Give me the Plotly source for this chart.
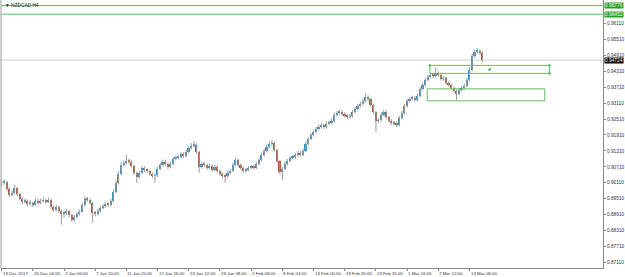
import plotly.graph_objects as go

# ---------------- data (NZDCAD, H4 — each candle here spans 2 H4 bars) ----------------
bar_index = list(range(0, 372, 2))

closes = [
    0.9011, 0.9015, 0.8988, 0.8966, 0.8973, 0.8992, 0.8970, 0.8951, 0.8940, 0.8943,
    0.8932, 0.8936, 0.8928, 0.8943, 0.8936, 0.8943, 0.8945, 0.8940, 0.8947, 0.8921,
    0.8909, 0.8921, 0.8906, 0.8894, 0.8898, 0.8906, 0.8891, 0.8872, 0.8883, 0.8894,
    0.8902, 0.8928, 0.8951, 0.8947, 0.8936, 0.8898, 0.8894, 0.8906, 0.8917, 0.8924,
    0.8932, 0.8928, 0.8943, 0.8977, 0.9011, 0.9045, 0.9079, 0.9086, 0.9094, 0.9091,
    0.9075, 0.9049, 0.9034, 0.9049, 0.9067, 0.9060, 0.9056, 0.9045, 0.9037, 0.9039,
    0.9064, 0.9079, 0.9091, 0.9082, 0.9071, 0.9082, 0.9101, 0.9105, 0.9109, 0.9120,
    0.9112, 0.9128, 0.9143, 0.9150, 0.9155, 0.9128, 0.9071, 0.9082, 0.9079, 0.9067,
    0.9075, 0.9060, 0.9071, 0.9056, 0.9045, 0.9037, 0.9036, 0.9049, 0.9056, 0.9079,
    0.9097, 0.9079, 0.9067, 0.9056, 0.9060, 0.9067, 0.9071, 0.9068, 0.9082, 0.9097,
    0.9116, 0.9131, 0.9147, 0.9158, 0.9160, 0.9135, 0.9094, 0.9052, 0.9064, 0.9082,
    0.9094, 0.9105, 0.9109, 0.9116, 0.9124, 0.9117, 0.9131, 0.9158, 0.9176, 0.9191,
    0.9203, 0.9214, 0.9222, 0.9229, 0.9221, 0.9234, 0.9237, 0.9244, 0.9267, 0.9274,
    0.9278, 0.9270, 0.9263, 0.9259, 0.9262, 0.9277, 0.9289, 0.9300, 0.9308, 0.9319,
    0.9334, 0.9327, 0.9304, 0.9278, 0.9244, 0.9246, 0.9267, 0.9278, 0.9259, 0.9244,
    0.9237, 0.9234, 0.9229, 0.9255, 0.9274, 0.9300, 0.9319, 0.9327, 0.9331, 0.9323,
    0.9338, 0.9364, 0.9379, 0.9398, 0.9410, 0.9417, 0.9413, 0.9425, 0.9418, 0.9402,
    0.9404, 0.9387, 0.9379, 0.9368, 0.9357, 0.9346, 0.9361, 0.9368, 0.9376, 0.9398,
    0.9436, 0.9488, 0.9504, 0.9507, 0.9500, 0.94724,
]

highs = [
    0.9020, 0.9024, 0.9019, 0.8994, 0.8981, 0.9003, 0.8996, 0.8975, 0.8957, 0.8952,
    0.8949, 0.8946, 0.8941, 0.8952, 0.8950, 0.8951, 0.8955, 0.8951, 0.8956, 0.8951,
    0.8926, 0.8929, 0.8925, 0.8910, 0.8906, 0.8914, 0.8910, 0.8895, 0.8890, 0.8901,
    0.8910, 0.8936, 0.8960, 0.8958, 0.8952, 0.8940, 0.8905, 0.8913, 0.8924, 0.8931,
    0.8939, 0.8938, 0.8951, 0.8985, 0.9020, 0.9054, 0.9088, 0.9095, 0.9116, 0.9102,
    0.9097, 0.9079, 0.9053, 0.9057, 0.9075, 0.9073, 0.9066, 0.9061, 0.9050, 0.9046,
    0.9071, 0.9087, 0.9099, 0.9097, 0.9087, 0.9090, 0.9109, 0.9113, 0.9117, 0.9128,
    0.9126, 0.9136, 0.9151, 0.9160, 0.9169, 0.9160, 0.9132, 0.9090, 0.9089, 0.9084,
    0.9083, 0.9080, 0.9078, 0.9076, 0.9061, 0.9050, 0.9044, 0.9056, 0.9063, 0.9086,
    0.9105, 0.9101, 0.9084, 0.9071, 0.9067, 0.9074, 0.9078, 0.9077, 0.9089, 0.9105,
    0.9124, 0.9139, 0.9155, 0.9167, 0.9173, 0.9165, 0.9139, 0.9098, 0.9071, 0.9090,
    0.9101, 0.9112, 0.9117, 0.9124, 0.9131, 0.9130, 0.9139, 0.9166, 0.9184, 0.9199,
    0.9211, 0.9222, 0.9230, 0.9237, 0.9235, 0.9242, 0.9245, 0.9252, 0.9275, 0.9282,
    0.9286, 0.9284, 0.9276, 0.9269, 0.9270, 0.9285, 0.9297, 0.9308, 0.9316, 0.9327,
    0.9349, 0.9340, 0.9331, 0.9309, 0.9282, 0.9254, 0.9275, 0.9286, 0.9283, 0.9264,
    0.9250, 0.9244, 0.9241, 0.9262, 0.9281, 0.9308, 0.9327, 0.9335, 0.9339, 0.9337,
    0.9346, 0.9372, 0.9387, 0.9406, 0.9418, 0.9426, 0.9424, 0.9443, 0.9431, 0.9423,
    0.9412, 0.9409, 0.9392, 0.9384, 0.9373, 0.9362, 0.9368, 0.9376, 0.9384, 0.9406,
    0.9444, 0.9496, 0.9512, 0.9518, 0.9514, 0.9505,
]

lows = [
    0.8998, 0.9004, 0.8980, 0.8958, 0.8960, 0.8968, 0.8962, 0.8944, 0.8931, 0.8934,
    0.8924, 0.8926, 0.8920, 0.8924, 0.8928, 0.8930, 0.8937, 0.8932, 0.8935, 0.8914,
    0.8901, 0.8903, 0.8898, 0.8853, 0.8880, 0.8892, 0.8882, 0.8864, 0.8866, 0.8877,
    0.8888, 0.8898, 0.8922, 0.8939, 0.8928, 0.8861, 0.8885, 0.8888, 0.8900, 0.8911,
    0.8918, 0.8920, 0.8922, 0.8938, 0.8971, 0.9005, 0.9040, 0.9072, 0.9080, 0.9083,
    0.9068, 0.9041, 0.9011, 0.9028, 0.9043, 0.9052, 0.9048, 0.9038, 0.9029, 0.9011,
    0.9033, 0.9058, 0.9073, 0.9075, 0.9064, 0.9066, 0.9077, 0.9095, 0.9099, 0.9103,
    0.9105, 0.9107, 0.9122, 0.9137, 0.9144, 0.9120, 0.9049, 0.9064, 0.9071, 0.9060,
    0.9061, 0.9053, 0.9054, 0.9049, 0.9038, 0.9029, 0.9011, 0.9030, 0.9043, 0.9051,
    0.9073, 0.9072, 0.9060, 0.9049, 0.9050, 0.9054, 0.9061, 0.9061, 0.9062, 0.9077,
    0.9091, 0.9110, 0.9125, 0.9141, 0.9151, 0.9128, 0.9086, 0.9044, 0.9022, 0.9058,
    0.9076, 0.9088, 0.9099, 0.9102, 0.9110, 0.9110, 0.9111, 0.9126, 0.9152, 0.9170,
    0.9185, 0.9197, 0.9208, 0.9216, 0.9214, 0.9215, 0.9228, 0.9231, 0.9238, 0.9261,
    0.9268, 0.9263, 0.9256, 0.9251, 0.9253, 0.9256, 0.9271, 0.9283, 0.9294, 0.9302,
    0.9313, 0.9320, 0.9297, 0.9270, 0.9203, 0.9236, 0.9240, 0.9261, 0.9252, 0.9237,
    0.9230, 0.9226, 0.9221, 0.9224, 0.9249, 0.9268, 0.9294, 0.9313, 0.9321, 0.9316,
    0.9317, 0.9332, 0.9358, 0.9373, 0.9392, 0.9404, 0.9406, 0.9407, 0.9410, 0.9395,
    0.9395, 0.9380, 0.9372, 0.9361, 0.9350, 0.9323, 0.9340, 0.9354, 0.9362, 0.9370,
    0.9392, 0.9430, 0.9482, 0.9497, 0.9492, 0.9466,
]

first_open = 0.9005
opens = [first_open] + closes[:-1]

# x-axis labels (bar positions, H4 bars)
time_tick_bars = [0, 24, 48, 72, 96, 120, 144, 168, 192, 216, 240, 264, 288, 312, 336, 360]
time_tick_labels = ["19 Dec 2017", "26 Dec 04:00", "2 Jan 00:00", "7 Jan 20:00", "11 Jan 20:00",
                    "17 Jan 16:00", "23 Jan 12:00", "29 Jan 08:00", "2 Feb 08:00", "8 Feb 04:00",
                    "14 Feb 00:00", "19 Feb 20:00", "23 Feb 20:00", "1 Mar 16:00", "7 Mar 12:00",
                    "13 Mar 08:00"]

price_ticks = [0.87110, 0.87710, 0.88310, 0.88910, 0.89510, 0.90110, 0.90710, 0.91310,
               0.91910, 0.92510, 0.93110, 0.93710, 0.94310, 0.94910, 0.95510, 0.96110]
price_tick_labels = ["0.87110", "0.87710", "0.88310", "0.88910", "0.89510", "0.90110",
                     "0.90710", "0.91310", "0.91910", "0.92510", "0.93110", "0.93710",
                     "0.94310", "0.94910", "0.95510", "0.96110"]

level_lines = [0.96776, 0.96452]
level_labels = ["0.96776", "0.96452"]
current_price = 0.94724
current_label = "0.94724"

# zones (bar index / price)
zone_upper = dict(x0=329.5, x1=421.5, y0=0.94226, y1=0.94527)
zone_lower = dict(x0=327.4, x1=417.9, y0=0.93192, y1=0.93644)

# ---------------- build ----------------
BULL = "#3b8fc2"
BEAR = "#b2532f"
WICK = "#9a9a9a"
GREEN = "#62bf62"
FONT = "Liberation Sans"

wx, wy = [], []
for x, h, l in zip(bar_index, highs, lows):
    wx += [x, x, None]
    wy += [l, h, None]

bases, heights, colors = [], [], []
for o, c in zip(opens, closes):
    bases.append(min(o, c))
    heights.append(max(abs(c - o), 0.00012))
    colors.append(BULL if c >= o else BEAR)

fig = go.Figure()
fig.add_trace(go.Scatter(x=wx, y=wy, mode="lines", line=dict(color=WICK, width=1),
                         hoverinfo="skip", showlegend=False))
fig.add_trace(go.Bar(x=bar_index, y=heights, base=bases, width=1.25,
                     marker=dict(color=colors, line=dict(width=0)),
                     hoverinfo="skip", showlegend=False))

# handles on selected zone
ux = [zone_upper["x0"], zone_upper["x1"], zone_upper["x1"], (zone_upper["x0"] + zone_upper["x1"]) / 2]
uy = [zone_upper["y1"], zone_upper["y1"], zone_upper["y0"], (zone_upper["y0"] + zone_upper["y1"]) / 2]
fig.add_trace(go.Scatter(x=ux, y=uy, mode="markers",
                         marker=dict(size=2.5, color="#4aa84a"), hoverinfo="skip", showlegend=False))

shapes = []
for lv in level_lines:
    shapes.append(dict(type="line", xref="paper", x0=0, x1=1, yref="y", y0=lv, y1=lv,
                       line=dict(color=GREEN, width=1)))
shapes.append(dict(type="line", xref="paper", x0=0, x1=1, yref="y", y0=current_price,
                   y1=current_price, line=dict(color="#cfcfcf", width=1), layer="below"))
for z in (zone_upper, zone_lower):
    shapes.append(dict(type="rect", xref="x", yref="y", x0=z["x0"], x1=z["x1"], y0=z["y0"],
                       y1=z["y1"], line=dict(color=GREEN, width=1), fillcolor="rgba(0,0,0,0)"))
shapes.append(dict(type="line", xref="paper", yref="paper", x0=0, x1=0, y0=0, y1=1,
                   line=dict(color="#9a9a9a", width=1)))

annotations = []
for b, t in zip(time_tick_bars, time_tick_labels):
    annotations.append(dict(x=b, xref="x", y=0, yref="paper", text=t, showarrow=False,
                            xanchor="left", yanchor="top", yshift=-1, xshift=-1,
                            font=dict(size=4.4, color="#333333", family=FONT)))
for lv, t in zip(level_lines, level_labels):
    annotations.append(dict(x=1, xref="paper", y=lv, yref="y", text=t, showarrow=False,
                            xanchor="left", yanchor="middle", xshift=1, bgcolor="#23a023",
                            borderpad=0, font=dict(size=4.8, color="white", family=FONT)))
annotations.append(dict(x=1, xref="paper", y=current_price, yref="y", text=current_label,
                        showarrow=False, xanchor="left", yanchor="middle", xshift=1,
                        bgcolor="#000000", borderpad=0,
                        font=dict(size=4.8, color="white", family=FONT)))
annotations.append(dict(x=0, xref="paper", y=1, yref="paper", text="▼ NZDCAD,H4",
                        showarrow=False, xanchor="left", yanchor="top", xshift=2, yshift=-1,
                        font=dict(size=4.8, color="#222222", family=FONT)))

fig.update_layout(
    width=625, height=277,
    margin=dict(l=1, r=20, t=0, b=9),
    paper_bgcolor="white", plot_bgcolor="white",
    bargap=0, showlegend=False,
    shapes=shapes, annotations=annotations,
    xaxis=dict(range=[-0.5, 462.7], showgrid=False, zeroline=False,
               tickvals=time_tick_bars, ticks="outside", ticklen=2, tickcolor="#888888",
               showticklabels=False, showline=True, linecolor="#888888", linewidth=1,
               fixedrange=True),
    yaxis=dict(side="right", range=[0.86905, 0.96987], showgrid=False, zeroline=False,
               tickvals=price_ticks, ticktext=price_tick_labels, ticks="outside", ticklen=2,
               tickcolor="#888888", showline=True, linecolor="#888888", linewidth=1,
               tickfont=dict(size=4.8, color="#333333", family=FONT),
               fixedrange=True),
)

fig.write_html("out.html")
